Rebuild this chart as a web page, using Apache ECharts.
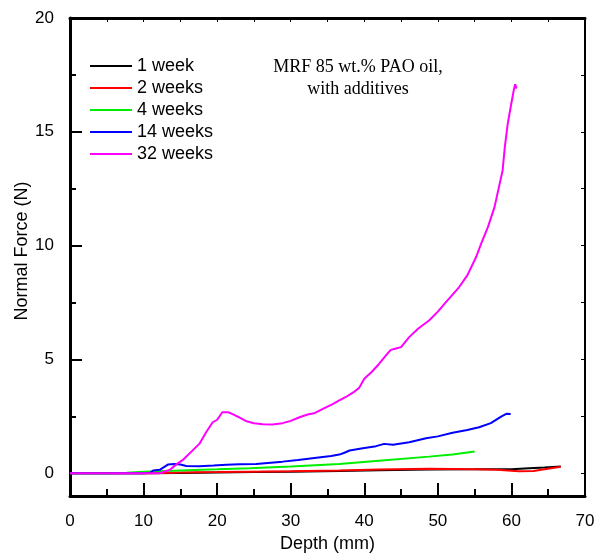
<!DOCTYPE html>
<html>
<head>
<meta charset="utf-8">
<script src="https://cdn.jsdelivr.net/npm/echarts@6/dist/echarts.min.js"></script>
<style>html,body{margin:0;padding:0;background:#fff}#c{width:598px;height:558px}</style>
</head>
<body>
<div id="c"></div>
<script>
var seriesNames = ['1 week', '2 weeks', '4 weeks', '14 weeks', '32 weeks'];
var seriesColors = ['#000000', '#ff0000', '#00ee00', '#0000ff', '#ff00ff'];

var x1w = [0, 10, 15, 20, 25, 30, 36.6, 42, 48.8, 55, 60, 62.4, 64.5, 66.7];
var y1w = [0, 0, 0.01, 0.03, 0.05, 0.07, 0.1, 0.13, 0.16, 0.17, 0.18, 0.22, 0.25, 0.3];

var x2w = [0, 10, 12.5, 15, 20, 24.4, 30, 36.6, 42, 48.8, 55, 58, 61, 63, 64.5, 66.7];
var y2w = [0, 0, 0.01, 0.03, 0.05, 0.07, 0.09, 0.12, 0.16, 0.2, 0.18, 0.15, 0.09, 0.1, 0.18, 0.29];

var x4w = [0, 5, 7.7, 10, 12.2, 15, 20, 24.4, 30, 36.6, 42, 48.8, 52, 55.0];
var y4w = [0, 0, 0.02, 0.06, 0.09, 0.12, 0.17, 0.22, 0.3, 0.41, 0.55, 0.73, 0.82, 0.95];

var x14w = [0, 5, 10, 10.9, 11.3, 12.2, 13.3, 14.2, 15.0, 15.8, 17.6, 19.5, 21.3, 23, 25.3, 28.9, 31, 33.5, 35.5, 36.6, 37.3, 38, 39.8, 41.6, 42.7, 43.9, 46.1, 48.4, 50, 52, 54, 55.6, 57.2, 58.6, 59.3, 59.9];
var y14w = [0, 0, 0, 0.02, 0.12, 0.15, 0.38, 0.41, 0.38, 0.32, 0.31, 0.34, 0.37, 0.39, 0.41, 0.51, 0.58, 0.68, 0.76, 0.82, 0.9, 1.0, 1.1, 1.19, 1.29, 1.25, 1.36, 1.54, 1.62, 1.78, 1.9, 2.02, 2.2, 2.49, 2.61, 2.6];

var x32w = [0, 5, 10, 12.2, 13.6, 14.5, 15.4, 16.5, 17.6, 18.5, 19.4, 20.0, 20.7, 21.5, 22.1, 23, 24, 25, 26.2, 27.5, 28.9, 30, 31.2, 32.3, 33.3, 34.5, 35.7, 36.6, 37.5, 38.5, 39.3, 40.0, 41, 42, 43, 43.6, 44.3, 45, 46.1, 47.3, 48.8, 50, 51.1, 52, 52.9, 54.0, 55.2, 55.9, 56.8, 57.7, 58.3, 58.8, 59.1, 59.5, 59.9, 60.3, 60.5, 60.7];
var y32w = [0, 0, 0, 0, 0.15, 0.4, 0.6, 0.95, 1.3, 1.8, 2.24, 2.35, 2.68, 2.68, 2.6, 2.45, 2.28, 2.2, 2.15, 2.14, 2.2, 2.3, 2.46, 2.58, 2.65, 2.85, 3.04, 3.2, 3.35, 3.55, 3.75, 4.15, 4.45, 4.8, 5.2, 5.42, 5.48, 5.54, 5.98, 6.35, 6.71, 7.1, 7.52, 7.85, 8.18, 8.69, 9.5, 10.1, 10.81, 11.69, 12.57, 13.3, 14.33, 15.36, 16.09, 16.8, 17.09, 16.9];

var yLabels = [0, 5, 10, 15, 20];
var yMinor = [2.5, 7.5, 12.5, 17.5];
var yAll = [0, 2.5, 5, 7.5, 10, 12.5, 15, 17.5, 20];

var xs = [x1w, x2w, x4w, x14w, x32w];
var ys = [y1w, y2w, y4w, y14w, y32w];

function pairs(a, b) { return a.map(function (v, i) { return [v, b[i]]; }); }

var FONT = 'Liberation Sans, Arial, sans-serif';
var chart = echarts.init(document.getElementById('c'), null, { renderer: 'canvas' });

var series = seriesNames.map(function (n, i) {
  return {
    name: n, type: 'line', xAxisIndex: 0, yAxisIndex: 0,
    data: pairs(xs[i], ys[i]), showSymbol: false, symbol: 'none',
    lineStyle: { color: seriesColors[i], width: 2 }, itemStyle: { color: seriesColors[i] },
    animation: false
  };
});

chart.setOption({
  animation: false,
  backgroundColor: '#ffffff',
  grid: { left: 70, right: 13, top: 18, bottom: 62, containLabel: false, outerBoundsMode: 'none' },
  legend: {
    orient: 'vertical', left: 90, top: 57, itemWidth: 42, itemHeight: 2, itemGap: 4, padding: 0,
    icon: 'rect',
    data: seriesNames,
    textStyle: { fontFamily: FONT, fontSize: 18, color: '#000', lineHeight: 18 }
  },
  xAxis: [{
    type: 'value', position: 'bottom', min: 0, max: 70, interval: 10,
    name: 'Depth (mm)', nameLocation: 'middle', nameGap: 39,
    nameTextStyle: { fontFamily: FONT, fontSize: 18, color: '#000' },
    axisLine: { onZero: false, lineStyle: { color: '#000', width: 3 } },
    axisTick: { inside: true, length: 13, lineStyle: { color: '#000', width: 2 } },
    minorTick: { show: true, splitNumber: 2, length: 7, lineStyle: { color: '#000', width: 2 } },
    axisLabel: { fontFamily: FONT, fontSize: 17, color: '#000', margin: 17 },
    splitLine: { show: false }
  }, {
    type: 'value', position: 'top', min: 0, max: 70, interval: 10,
    axisLine: { onZero: false, lineStyle: { color: '#000', width: 3 } },
    axisTick: { inside: true, length: 4, lineStyle: { color: '#000', width: 1 } },
    minorTick: { show: true, splitNumber: 2, length: 4, lineStyle: { color: '#000', width: 1 } },
    axisLabel: { show: false }, splitLine: { show: false }
  }],
  yAxis: [{
    type: 'value', position: 'left', min: -1, max: 20,
    name: 'Normal Force (N)', nameLocation: 'middle', nameGap: 39, nameRotate: 90, nameMoveOverlap: false,
    nameTextStyle: { fontFamily: FONT, fontSize: 18, color: '#000', padding: [0, 0, 0, 12] },
    axisLine: { onZero: false, lineStyle: { color: '#000', width: 3 } },
    axisTick: { inside: true, length: 12, customValues: yLabels, lineStyle: { color: '#000', width: 2 } },
    axisLabel: { customValues: yLabels, fontFamily: FONT, fontSize: 17, color: '#000', margin: 16 },
    splitLine: { show: false }
  }, {
    type: 'value', position: 'left', min: -1, max: 20,
    axisLine: { show: false },
    axisTick: { inside: true, length: 6, customValues: yMinor, lineStyle: { color: '#000', width: 2 } },
    axisLabel: { show: false }, splitLine: { show: false }
  }, {
    type: 'value', position: 'right', min: -1, max: 20,
    axisLine: { onZero: false, lineStyle: { color: '#000', width: 2 } },
    axisTick: { inside: true, length: 4, customValues: yAll, lineStyle: { color: '#000', width: 1 } },
    axisLabel: { show: false }, splitLine: { show: false }
  }],
  graphic: [{
    type: 'text', x: 358, y: 56,
    style: {
      text: 'MRF 85 wt.% PAO oil,\nwith additives', textAlign: 'center', align: 'center',
      font: '18px "Liberation Serif", "Times New Roman", serif', fill: '#000', lineHeight: 22
    }
  }],
  series: series
});
</script>
</body>
</html>
